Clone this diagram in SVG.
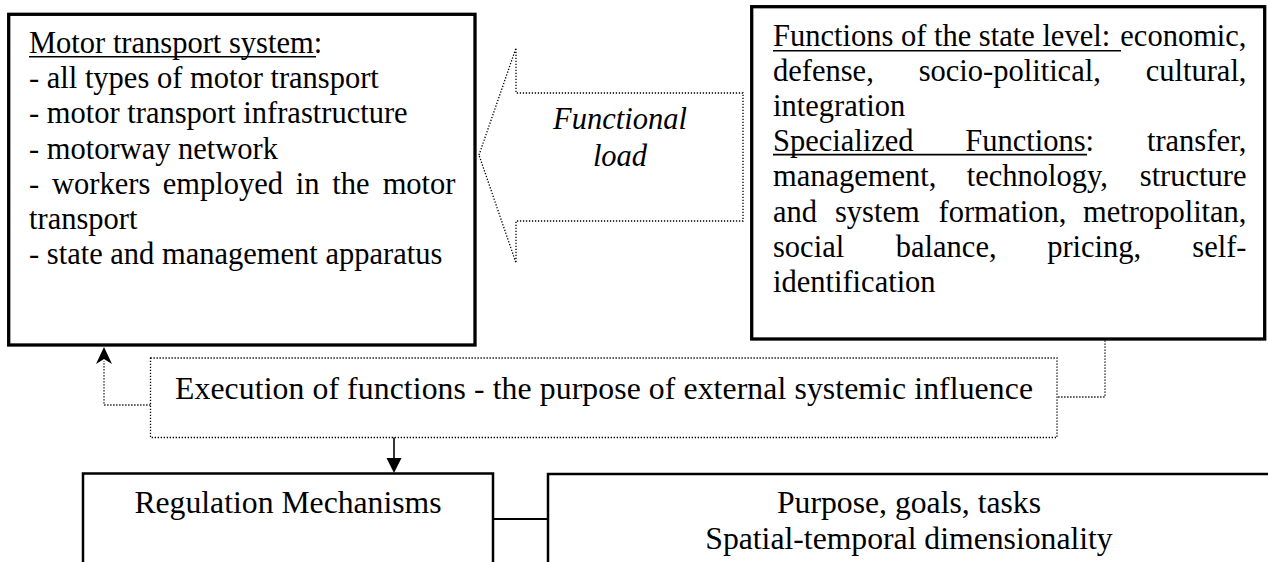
<svg xmlns="http://www.w3.org/2000/svg" width="1268" height="562" viewBox="0 0 1268 562">
<style>
.t{font-family:'Liberation Serif',Tinos,'Times New Roman','DejaVu Serif',serif;font-size:30.5px;fill:#000}
.b{font-size:31.7px}
.it{font-style:italic}
.e{text-anchor:end}
.box{fill:#fff;stroke:#000;stroke-width:3.3}
.box2{fill:#fff;stroke:#000;stroke-width:2.5}
.dot{fill:none;stroke:#000;stroke-width:1.3;stroke-dasharray:1.3 1.7}
.ul{stroke:#000;stroke-width:1.6}
.ln{fill:none;stroke:#000}
</style>
<rect width="1268" height="562" fill="#fff"/>
<g id="motor-transport-system">
<rect class="box" x="8.7" y="14.3" width="466.3" height="330.7"/>
<text class="t" x="29" y="52.7">Motor transport system:</text>
<line class="ul" x1="29" y1="56.8" x2="316" y2="56.8"/>
<text class="t" x="29" y="88.2">- all types of motor transport</text>
<text class="t" x="29" y="123.4">- motor transport infrastructure</text>
<text class="t" x="29" y="158.6">- motorway network</text>
<text class="t" y="193.8"><tspan x="29">-</tspan><tspan x="52">workers</tspan><tspan x="162.8">employed</tspan><tspan x="295.8">in</tspan><tspan x="332.2">the</tspan></text>
<text class="t e" x="455.5" y="193.8">motor</text>
<text class="t" x="29" y="229">transport</text>
<text class="t" x="29" y="264.2">- state and management apparatus</text>
</g>
<g id="state-functions">
<rect class="box" x="751.7" y="6.7" width="513" height="332.3"/>
<text class="t" x="773" y="45.5">Functions of the state level: </text>
<text class="t e" x="1246.5" y="45.5">economic,</text>
<line class="ul" x1="773" y1="50.8" x2="1121" y2="50.8"/>
<text class="t" y="80.7"><tspan x="773">defense,</tspan><tspan x="918.7">socio-political,</tspan></text>
<text class="t e" x="1246.5" y="80.7">cultural,</text>
<text class="t" x="773" y="115.9">integration</text>
<text class="t" y="151.1"><tspan x="773">Specialized</tspan><tspan x="965.2">Functions:</tspan></text>
<text class="t e" x="1246.5" y="151.1">transfer,</text>
<line class="ul" x1="773" y1="154.6" x2="1087" y2="154.6"/>
<text class="t" y="186.3"><tspan x="773">management,</tspan><tspan x="966.8">technology,</tspan></text>
<text class="t e" x="1246.5" y="186.3">structure</text>
<text class="t" y="221.5"><tspan x="773">and</tspan><tspan x="835">system</tspan><tspan x="938.5">formation,</tspan></text>
<text class="t e" x="1246.5" y="221.5">metropolitan,</text>
<text class="t" y="256.7"><tspan x="773">social</tspan><tspan x="895.8">balance,</tspan><tspan x="1047.2">pricing,</tspan></text>
<text class="t e" x="1246.5" y="256.7">self-</text>
<text class="t" x="773" y="291.9">identification</text>
</g>
<g id="functional-load">
<polygon class="dot" points="479,155 516,48 516,93 743,93 743,221 516,221 516,263"/>
<text class="t it" x="620" y="129" text-anchor="middle">Functional</text>
<text class="t it" x="620" y="166" text-anchor="middle">load</text>
</g>
<g id="execution">
<rect class="dot" x="150.5" y="358" width="906.5" height="79.5"/>
<text class="t b" x="175" y="398.5" textLength="858" lengthAdjust="spacing">Execution of functions - the purpose of external systemic influence</text>
</g>
<g id="regulation-mechanisms">
<rect class="box2" x="83" y="473.5" width="410" height="120"/>
<text class="t b" x="288" y="513" text-anchor="middle">Regulation Mechanisms</text>
</g>
<g id="purpose">
<rect class="box2" x="548" y="474" width="760" height="120"/>
<text class="t b" x="909" y="513" text-anchor="middle">Purpose, goals, tasks</text>
<text class="t b" x="909" y="549" text-anchor="middle">Spatial-temporal dimensionality</text>
</g>
<g id="connectors">
<polyline class="dot" points="150.5,405 104,405 104,361"/>
<polygon points="104,347 96,364 104,359 112,364" fill="#000"/>
<polyline class="dot" points="1105,340.5 1105,397 1057,397"/>
<line class="ln" x1="394" y1="437.5" x2="394" y2="459" stroke-width="1.6"/>
<polygon points="386.5,458 401.5,458 394,473" fill="#000"/>
<line class="ln" x1="493" y1="519" x2="548" y2="519" stroke-width="2"/>
</g>
</svg>
